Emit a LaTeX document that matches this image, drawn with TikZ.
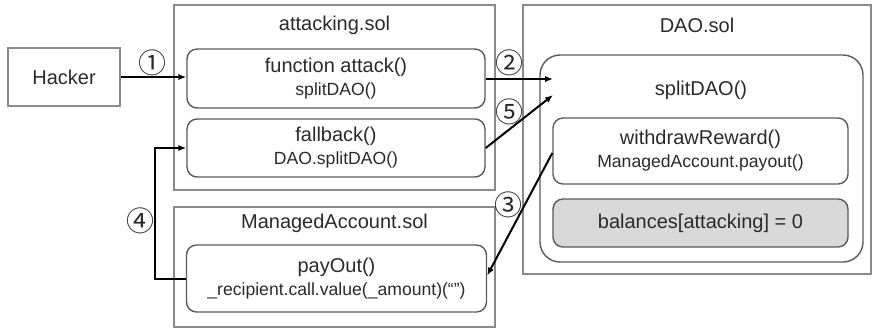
\documentclass[tikz,border=0pt]{standalone}
\usepackage{fontspec}
\setmainfont{Liberation Sans}
\newfontfamily\cjk{Noto Sans CJK KR}
\usetikzlibrary{arrows.meta,calc}
\definecolor{outerc}{HTML}{8A8A8A}
\definecolor{innerc}{HTML}{5A5A5A}
\definecolor{grayfill}{HTML}{D9D9D9}
\definecolor{txt}{HTML}{2A2A2A}
\newcommand{\bigf}{\fontsize{10}{10.5}\selectfont}
\newcommand{\smallf}{\fontsize{8.8}{10.5}\selectfont}
\begin{document}
\begin{tikzpicture}[x=0.5pt,y=-0.5pt,
  outerbox/.style={draw=outerc, line width=0.6pt, inner sep=0pt},
  fnbox/.style={draw=innerc, line width=0.7pt, rounded corners=5pt, align=center, inner sep=0pt, text=txt},
  title/.style={font=\bigf, text=txt, inner sep=0pt},
  num/.style={font=\cjk\fontsize{14}{14}\selectfont, text=txt, inner sep=0pt},
  arr/.style={draw=black, line width=1pt, -{Latex[length=4pt,width=3.2pt]}}]
\useasboundingbox (0,0) rectangle (872,329);
% Hacker
\node[outerbox, minimum width=56pt, minimum height=29pt, font=\bigf, text=txt] (hacker) at (64,77) {Hacker};
% attacking.sol
\node[outerbox, minimum width=160.5pt, minimum height=92.5pt] (att) at (334.5,97.5) {};
\node[title] (atttitle) at (334.5,25) {attacking.sol};
\node[fnbox, minimum width=149pt, minimum height=29.5pt] (attack) at (336,78.5) {\bigf function attack()\\[-0.5pt]\smallf splitDAO()};
\node[fnbox, minimum width=149pt, minimum height=29pt] (fallback) at (336,148) {\bigf fallback()\\[-0.5pt]\smallf DAO.splitDAO()};
% ManagedAccount.sol
\node[outerbox, minimum width=160.5pt, minimum height=60pt] (ma) at (334.5,267) {};
\node[title] (matitle) at (334.5,223) {ManagedAccount.sol};
\node[fnbox, minimum width=150pt, minimum height=33.5pt] (payout) at (336.5,278.5) {\bigf payOut()\\[-0.5pt]\smallf \_recipient.call.value(\_amount)(“”)};
% DAO.sol
\node[outerbox, minimum width=174pt, minimum height=134.5pt] (dao) at (697,139.5) {};
\node[title] (daotitle) at (697,25) {DAO.sol};
\node[draw=innerc, line width=0.7pt, rounded corners=10pt, minimum width=161.5pt, minimum height=103.5pt, inner sep=0pt] (split) at (701.5,158.5) {};
\node[title] (splittitle) at (701,90) {splitDAO()};
\node[fnbox, minimum width=147.5pt, minimum height=33pt] (withdraw) at (700.5,151) {\bigf withdrawReward()\\[-0.5pt]\smallf ManagedAccount.payout()};
\node[fnbox, fill=grayfill, minimum width=147.5pt, minimum height=24pt, font=\bigf] (bal) at (700.5,223) {balances[attacking] = 0};
% connectors
\coordinate (in2) at (553,79);
\coordinate (in5) at (553,95);
\draw[arr] (hacker.east) -- (hacker.east -| attack.west);
\draw[arr] (attack.east |- in2) -- (in2);
\draw[arr] (fallback.east) -- (in5);
\draw[arr] ($(withdraw.west)+(0,2)$) -- ($(payout.east)+(0,-3)$);
\draw[arr] (payout.west) -- ++(-31,0) |- (fallback.west);
% numbers
\node[num] (n1) at (152,63) {①};
\node[num] (n2) at (509,63) {②};
\node[num] (n3) at (508,205) {③};
\node[num] (n4) at (140,221) {④};
\node[num] (n5) at (509,112) {⑤};
\end{tikzpicture}
\end{document}
